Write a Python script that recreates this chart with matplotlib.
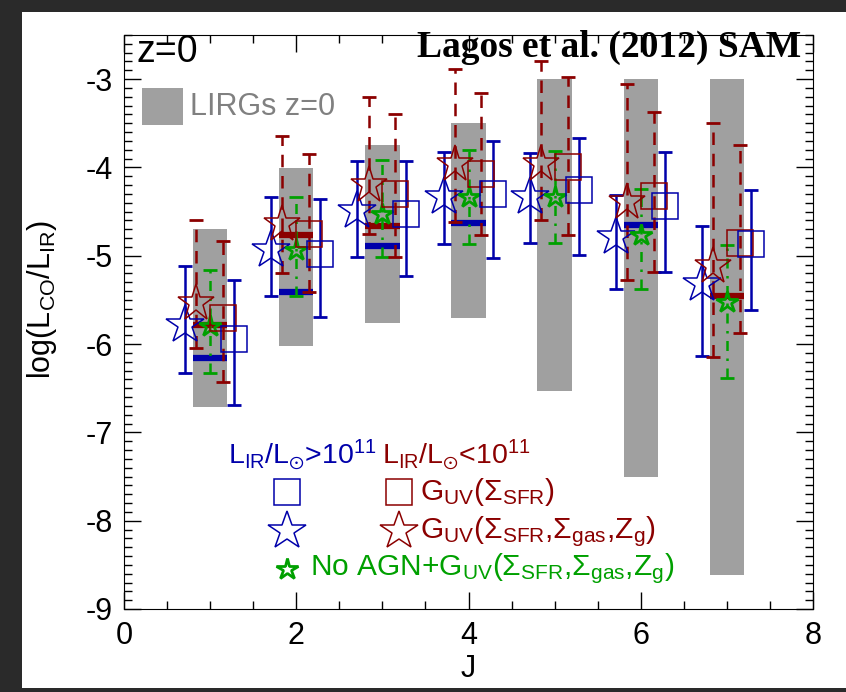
import numpy as np
import matplotlib
matplotlib.use("Agg")
from matplotlib import pyplot as plt
from matplotlib.patches import Rectangle

# 字体
plt.rcParams["font.family"] = ["Liberation Sans", "DejaVu Sans"]
plt.rcParams["mathtext.fontset"] = "custom"
plt.rcParams["mathtext.rm"] = "Liberation Sans"
plt.rcParams["mathtext.it"] = "Liberation Sans"
plt.rcParams["mathtext.default"] = "regular"
plt.rcParams["axes.unicode_minus"] = False

# 数据
J = np.array([1, 2, 3, 4, 5, 6, 7])

# LIRGs z=0 灰色范围
lirg_top = [-4.70, -4.01, -3.75, -3.50, -3.00, -3.00, -3.00]
lirg_bot = [-6.71, -6.02, -5.76, -5.71, -6.53, -7.51, -8.62]

# 粗横线
blue_med = [-6.16, -5.41, -4.89, -4.63, np.nan, -4.65, np.nan]
red_med = [-5.78, -4.76, -4.66, np.nan, np.nan, np.nan, -5.46]

# 蓝色星 L_IR>10^11, G_UV(SFR,gas,Z)
bstar = [-5.78, -4.93, -4.49, -4.34, -4.34, -4.79, -5.32]
bstar_hi = [-5.12, -4.34, -3.93, -3.82, -3.84, -4.31, -4.66]
bstar_lo = [-6.33, -5.45, -5.01, -4.87, -4.85, -5.38, -6.14]

# 红色星 L_IR<10^11
rstar = [-5.53, -4.64, -4.20, -3.96, -3.96, -4.39, -5.12]
rstar_hi = [-4.59, -3.64, -3.20, -2.89, -2.80, -3.06, -3.50]
rstar_lo = [-6.05, -5.20, -4.75, -4.62, -4.60, -5.27, -6.15]

# 绿色星 No AGN
gstar = [-5.80, -4.93, -4.53, -4.34, -4.33, -4.77, -5.52]
gstar_hi = [-5.16, -4.34, -3.92, -3.80, -3.81, -4.24, -4.88]
gstar_lo = [-6.33, -5.45, -5.01, -4.87, -4.86, -5.38, -6.38]

# 红色方块 G_UV(SFR)
rsq = [-5.71, -4.75, -4.30, -4.07, -3.99, -4.32, -4.85]
rsq_hi = [-4.83, -3.85, -3.40, -3.16, -2.98, -3.37, -3.75]
rsq_lo = [-6.43, -5.41, -5.01, -4.76, -4.76, -5.18, -5.87]

# 蓝色方块
bsq = [-5.94, -4.98, -4.53, -4.30, -4.26, -4.44, -4.87]
bsq_hi = [-5.28, -4.36, -3.93, -3.70, -3.67, -3.83, -4.25]
bsq_lo = [-6.69, -5.69, -5.23, -5.02, -4.99, -5.18, -5.61]

blue = "#0000aa"
red = "#8b0000"
green = "#00a000"
grey = "#a0a0a0"

fig = plt.figure(figsize=(8.46, 6.92), dpi=100, facecolor="#2a2a2a")
fig.patches.append(Rectangle((22 / 846, 4 / 692), 1 - 22 / 846, 1 - 16 / 692,
                             transform=fig.transFigure, facecolor="white",
                             edgecolor="none", zorder=-5))
ax = fig.add_axes([124 / 846, 1 - 609 / 692, 689 / 846, 574 / 692])
ax.set_facecolor("none")

# 灰色柱
ax.bar(J, np.array(lirg_top) - np.array(lirg_bot), bottom=lirg_bot, width=0.4,
       color=grey, zorder=1)

# 粗横线
ax.hlines(red_med, J - 0.2, J + 0.2, colors=red, linewidth=4.5, zorder=2)
ax.hlines(blue_med, J - 0.2, J + 0.2, colors=blue, linewidth=4.5, zorder=2)


def err(x, y, hi, lo, color, ls):
    y = np.array(y)
    yerr = [y - np.array(lo), np.array(hi) - y]
    _, caps, bars = ax.errorbar(x, y, yerr=yerr, fmt="none", ecolor=color,
                                elinewidth=1.8, capsize=5, capthick=2, zorder=3)
    bars[0].set_linestyle(ls)


dash = (0, (5, 3.5))
dashdot = (0, (4, 3, 1, 3))

err(J - 0.29, bstar, bstar_hi, bstar_lo, blue, "solid")
err(J - 0.16, rstar, rstar_hi, rstar_lo, red, dash)
err(J + 0.00, gstar, gstar_hi, gstar_lo, green, dashdot)
err(J + 0.15, rsq, rsq_hi, rsq_lo, red, dash)
err(J + 0.28, bsq, bsq_hi, bsq_lo, blue, "solid")

ax.plot(J - 0.29, bstar, "*", ms=29, mfc="none", mec=blue, mew=1.1, zorder=4)
ax.plot(J - 0.16, rstar, "*", ms=28, mfc="none", mec=red, mew=1.1, zorder=4)
ax.plot(J + 0.00, gstar, "*", ms=16, mfc="none", mec=green, mew=2, zorder=4)
ax.plot(J + 0.15, rsq, "s", ms=18.5, mfc="none", mec=red, mew=1.1, zorder=4)
ax.plot(J + 0.28, bsq, "s", ms=18.5, mfc="none", mec=blue, mew=1.1, zorder=4)

# 坐标轴
ax.set_xlim(0, 8)
ax.set_ylim(-9, -2.5)
ax.set_xticks([0, 2, 4, 6, 8])
ax.set_xticks(np.arange(0, 8.01, 0.5), minor=True)
ax.set_yticks([-9, -8, -7, -6, -5, -4, -3])
ax.set_yticks(np.arange(-9, -2.49, 0.1), minor=True)
ax.tick_params(which="both", direction="in", top=True, right=True, width=1)
ax.tick_params(which="major", length=12, labelsize=22)
ax.tick_params(which="minor", length=6)
ax.tick_params(axis="y", pad=8)
ax.tick_params(axis="x", pad=9)
ax.set_xlabel("J", fontsize=22)
ax.xaxis.set_label_coords(0.5, -0.078)
ax.set_ylabel(r"log(L$_{CO}$/L$_{IR}$)", fontsize=22)
ax.yaxis.set_label_coords(-0.094, 0.54)

# 文字
ax.text(0.15, -2.69, "z=0", fontsize=27, ha="left", va="center")
ax.text(7.86, -2.64, "Lagos et al. (2012) SAM", fontsize=27, ha="right",
        va="center", family="Liberation Serif", weight="bold")
ax.add_patch(Rectangle((0.21, -3.52), 0.48, 0.42, facecolor=grey, edgecolor="none"))
ax.text(0.77, -3.31, "LIRGs z=0", fontsize=22, color="#808080", ha="left", va="center")

ax.text(1.21, -7.25, r"L$_{IR}$/L$_{\odot}$>10$^{11}$", fontsize=20.5, color=blue,
        ha="left", va="center")
ax.text(3.0, -7.25, r"L$_{IR}$/L$_{\odot}$<10$^{11}$", fontsize=20.5, color=red,
        ha="left", va="center")
ax.plot(1.89, -7.67, "s", ms=18.5, mfc="none", mec=blue, mew=1.1)
ax.plot(3.19, -7.67, "s", ms=18.5, mfc="none", mec=red, mew=1.1)
ax.text(3.44, -7.67, r"G$_{UV}$($\Sigma_{SFR}$)", fontsize=21.5, color=red,
        ha="left", va="center")
ax.plot(1.89, -8.12, "*", ms=29, mfc="none", mec=blue, mew=1.1)
ax.plot(3.19, -8.12, "*", ms=29, mfc="none", mec=red, mew=1.1)
ax.text(3.44, -8.12, r"G$_{UV}$($\Sigma_{SFR}$,$\Sigma_{gas}$,Z$_{g}$)", fontsize=21.5,
        color=red, ha="left", va="center")
ax.plot(1.89, -8.545, "*", ms=16, mfc="none", mec=green, mew=2)
ax.text(2.16, -8.545, r"No AGN+G$_{UV}$($\Sigma_{SFR}$,$\Sigma_{gas}$,Z$_{g}$)",
        fontsize=21.5, color=green, ha="left", va="center")

plt.savefig("out.png", dpi=100, facecolor=fig.get_facecolor())
